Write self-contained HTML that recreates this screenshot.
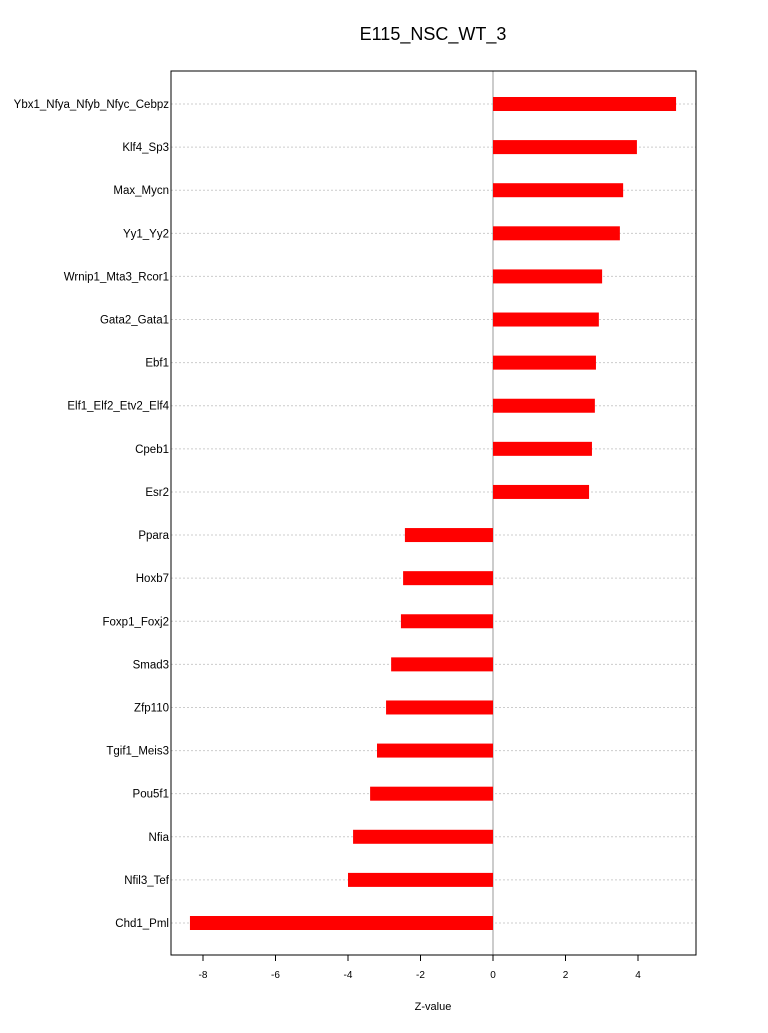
<!DOCTYPE html>
<html><head><meta charset="utf-8"><style>
body{margin:0;background:#fff;}
svg text{font-family:"Liberation Sans",sans-serif;fill:#000;}
</style></head><body>
<svg id="chart" width="768" height="1028" xmlns="http://www.w3.org/2000/svg"></svg>
<script>
const categories=["Ybx1_Nfya_Nfyb_Nfyc_Cebpz","Klf4_Sp3","Max_Mycn","Yy1_Yy2","Wrnip1_Mta3_Rcor1","Gata2_Gata1","Ebf1","Elf1_Elf2_Etv2_Elf4","Cpeb1","Esr2","Ppara","Hoxb7","Foxp1_Foxj2","Smad3","Zfp110","Tgif1_Meis3","Pou5f1","Nfia","Nfil3_Tef","Chd1_Pml"];
const values=[5.05,3.97,3.59,3.50,3.01,2.92,2.84,2.81,2.73,2.65,-2.43,-2.48,-2.54,-2.81,-2.95,-3.20,-3.39,-3.86,-4.0,-8.36];
const xTicks=[-8,-6,-4,-2,0,2,4];
const NS="http://www.w3.org/2000/svg";
const svg=document.getElementById('chart');
const L=171,R=696,T=71,B=955;
function x(v){return 493+v*36.25;}
function y(i){return 104+i*(923-104)/(categories.length-1);}
function mk(t,a,txt){const e=document.createElementNS(NS,t);for(const k in a)e.setAttribute(k,a[k]);if(txt!==undefined)e.textContent=txt;svg.appendChild(e);return e;}
let e;
e=mk('text',{x:433,y:40,'font-size':18,'text-anchor':'middle'},'E115_NSC_WT_3');


categories.forEach((c,i)=>{
 e=mk('line',{x1:L,x2:R,y1:y(i),y2:y(i),stroke:'#ccc','stroke-dasharray':'2,2'});
 
 
});
e=mk('line',{x1:x(0),x2:x(0),y1:T,y2:B,stroke:'#999'});


categories.forEach((c,i)=>{
 const v=values[i];
 e=mk('rect',{x:Math.min(x(0),x(v)),y:y(i)-7,width:Math.abs(x(v)-x(0)),height:14,fill:'#ff0000'});
 
 
 e=mk('text',{x:L-2,y:y(i)+4,'font-size':11.5,'text-anchor':'end'},c);
 
 
});
e=mk('rect',{x:L,y:T,width:R-L,height:B-T,fill:'none',stroke:'#000'});


xTicks.forEach(t=>{
 e=mk('line',{x1:x(t),x2:x(t),y1:B,y2:B+6,stroke:'#000'});
 
 
 e=mk('text',{x:x(t),y:B+23,'font-size':10,'text-anchor':'middle'},String(t));
 
 
});
e=mk('line',{x1:x(-8),x2:x(4),y1:B,y2:B,stroke:'#000'});


e=mk('text',{x:433,y:1010,'font-size':11,'text-anchor':'middle'},'Z-value');


</script>
</body></html>
